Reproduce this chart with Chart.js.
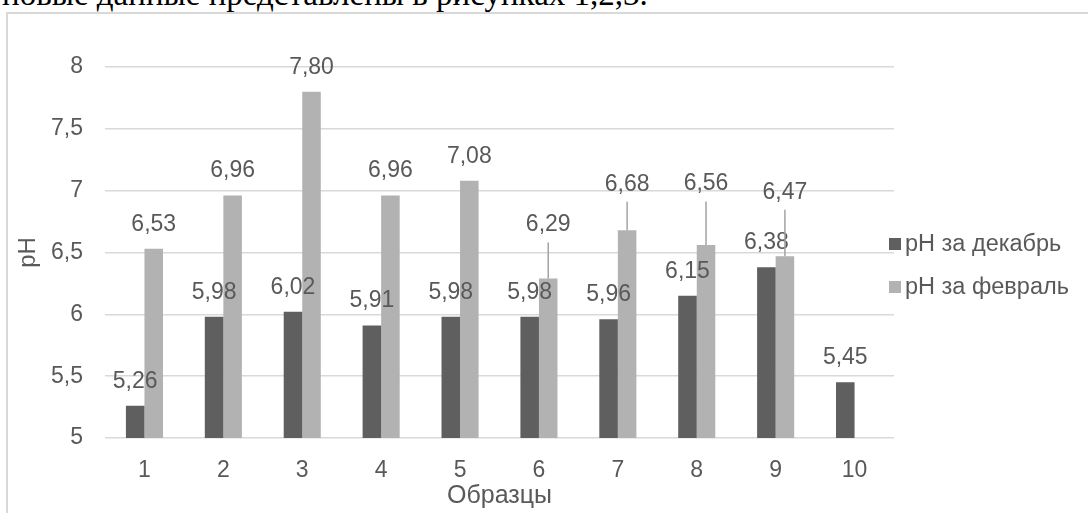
<!DOCTYPE html>
<html>
<head>
<meta charset="utf-8">
<script src="https://cdn.jsdelivr.net/npm/chart.js@4.4.1/dist/chart.umd.min.js"></script>
<style>
  html, body { margin: 0; padding: 0; background: #fff; overflow: hidden; }
  #page { position: relative; width: 1088px; height: 513px; overflow: hidden; }
  #lead {
    position: absolute; left: 2px; top: -22px;
    font: 33px/33px "Liberation Serif", "Times New Roman", serif;
    color: #000; white-space: nowrap;
  }
  #frame {
    position: absolute; left: 6px; top: 12px; width: 1100px; height: 600px;
    border: 2px solid #d9d9d9; background: #fff;
  }
  #chart { position: absolute; left: 0; top: 0; }
</style>
</head>
<body>
<div id="page">
  <div id="lead">новые данные представлены в рисунках 1,2,3.</div>
  <div id="frame"></div>
  <canvas id="chart" width="1088" height="513"></canvas>
</div>
<script>
// Sample numbers and measured pH values
const categories = ['1', '2', '3', '4', '5', '6', '7', '8', '9', '10'];
const phDecember = [5.26, 5.98, 6.02, 5.91, 5.98, 5.98, 5.96, 6.15, 6.38, 5.45];
const phFebruary = [6.53, 6.96, 7.80, 6.96, 7.08, 6.29, 6.68, 6.56, 6.47, null];
const seriesNames = ['pH за декабрь', 'pH за февраль'];
const yMin = 5, yMax = 8, yStep = 0.5;

const TEXT = '#595959';
const FONT = '"Liberation Sans", Arial, sans-serif';
const fmt = v => String(v).replace('.', ',');
const fmt2 = v => v.toFixed(2).replace('.', ',');

// Label placement: normal gap above a bar, and the few February labels
// that were pulled higher and get a leader line back to their bar.
const LABEL_SIZE = 23;
const LABEL_LIFT = 24.5;
const LEADER_GAP = 17.5;
const raisedLabels = [{}, { 5: 53.5, 6: 46, 7: 61, 8: 64 }];

const valueLabels = {
  id: 'valueLabels',
  afterDatasetsDraw(chart) {
    const ctx = chart.ctx;
    ctx.save();
    ctx.font = `${LABEL_SIZE}px ${FONT}`;
    ctx.textAlign = 'center';
    ctx.textBaseline = 'middle';
    chart.data.datasets.forEach((ds, di) => {
      const meta = chart.getDatasetMeta(di);
      const raised = raisedLabels[di] || {};
      meta.data.forEach((bar, i) => {
        const v = ds.data[i];
        if (v == null) return;
        const isRaised = Object.prototype.hasOwnProperty.call(raised, i);
        const cy = bar.y - (isRaised ? raised[i] : LABEL_LIFT);
        if (isRaised) {
          ctx.strokeStyle = '#a3a3a3';
          ctx.lineWidth = 1.5;
          ctx.beginPath();
          ctx.moveTo(bar.x, cy + LEADER_GAP);
          ctx.lineTo(bar.x, bar.y);
          ctx.stroke();
        }
        ctx.fillStyle = TEXT;
        ctx.fillText(fmt2(v), bar.x, cy);
      });
    });
    ctx.restore();
  }
};

// Legend on the right, one swatch per series
const LEGEND = { size: 23.5, x: 889, y: 244, rowGap: 43, box: 12 };
const sideLegend = {
  id: 'sideLegend',
  afterDraw(chart) {
    const ctx = chart.ctx;
    ctx.save();
    ctx.font = `${LEGEND.size}px ${FONT}`;
    ctx.textAlign = 'left';
    ctx.textBaseline = 'middle';
    chart.data.datasets.forEach((ds, di) => {
      const cy = LEGEND.y + di * LEGEND.rowGap;
      ctx.fillStyle = ds.backgroundColor;
      ctx.fillRect(LEGEND.x, cy - LEGEND.box / 2, LEGEND.box, LEGEND.box);
      ctx.fillStyle = TEXT;
      ctx.fillText(ds.label, LEGEND.x + LEGEND.box + 4, cy + 1);
    });
    ctx.restore();
  }
};

new Chart(document.getElementById('chart'), {
  type: 'bar',
  data: {
    labels: categories,
    datasets: [
      { label: seriesNames[0], data: phDecember, backgroundColor: '#5f5f5f' },
      { label: seriesNames[1], data: phFebruary, backgroundColor: '#b2b2b2' }
    ]
  },
  options: {
    responsive: false,
    animation: false,
    events: [],
    layout: { padding: { left: 0, top: 67, right: 194, bottom: 0 } },
    datasets: { bar: { categoryPercentage: 0.47, barPercentage: 1.0 } },
    scales: {
      x: {
        grid: { display: false },
        border: { display: false },
        ticks: { color: TEXT, font: { family: FONT, size: 23 }, padding: 11 },
        title: { display: true, text: 'Образцы', color: TEXT, font: { family: FONT, size: 25 }, padding: { top: 0, bottom: 2 } },
        afterFit(scale) { scale.height = 75; }
      },
      y: {
        min: yMin, max: yMax,
        grid: { color: '#d9d9d9', lineWidth: 1.5, drawTicks: false },
        border: { display: false },
        ticks: { stepSize: yStep, color: TEXT, font: { family: FONT, size: 23 }, padding: 22, callback: v => fmt(v) },
        title: { display: true, text: 'pH', color: TEXT, font: { family: FONT, size: 24 }, padding: { top: 14, bottom: 0 } },
        afterFit(scale) { scale.width = 105; }
      }
    },
    plugins: {
      legend: { display: false },
      tooltip: { enabled: false }
    }
  },
  plugins: [valueLabels, sideLegend]
});
</script>
</body>
</html>
